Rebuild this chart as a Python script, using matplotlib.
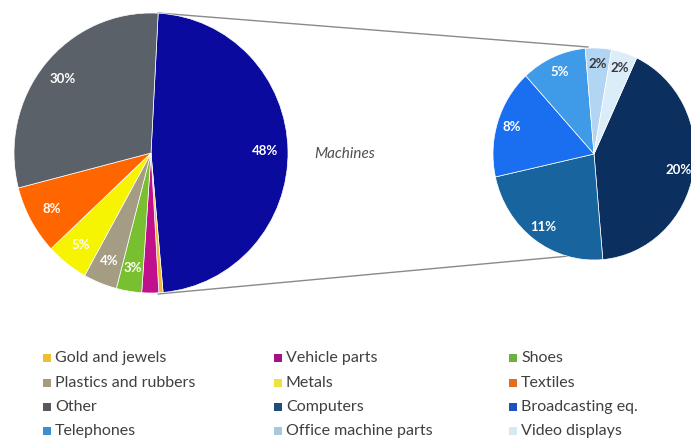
import matplotlib.pyplot as plt
import numpy as np

plt.rcParams['font.family'] = ['Lato', 'DejaVu Sans']

# export shares, % of total
export_labels = ["Machines", "Gold and jewels", "Vehicle parts", "Shoes",
                 "Plastics and rubbers", "Metals", "Textiles", "Other"]
export_shares = [48, 0.5, 2, 3, 4, 5, 8, 30]
export_colors = ["#0a0a9e", "#f0b830", "#c0108c", "#78c030",
                 "#a59c84", "#f6f400", "#ff6600", "#5b6168"]

# breakdown of the machines slice, % of total
machine_shares = [20, 11, 8, 5, 2, 2]
machine_colors = ["#0b2f5e", "#17649e", "#1a6ef0", "#3f9be8", "#b2d5f3", "#dcedfa"]
machine_text = ["white", "white", "white", "white", "#3a3a3a", "#3a3a3a"]

legend_labels = ["Gold and jewels", "Vehicle parts", "Shoes",
                 "Plastics and rubbers", "Metals", "Textiles",
                 "Other", "Computers", "Broadcasting eq.",
                 "Telephones", "Office machine parts", "Video displays"]
legend_colors = ["#e8c030", "#a0108c", "#6cb040",
                 "#a89c80", "#f0e040", "#e07020",
                 "#555a60", "#1e4e7c", "#2050c0",
                 "#3a8fd0", "#a8c8e0", "#d8e8f0"]

W, H = 691, 442
fig = plt.figure(figsize=(W / 100, H / 100), dpi=100)


def pie_axes(cx, cy, rx, ry):
    return fig.add_axes([(cx - rx) / W, (H - cy - ry) / H, 2 * rx / W, 2 * ry / H])


def finish_pie(ax, wedges):
    # pie() resets limits and aspect, so stretch the unit circle over the box afterwards
    ax.set_xlim(-1, 1)
    ax.set_ylim(-1, 1)
    ax.set_aspect('auto')
    ax.axis('off')
    for w in wedges:
        w.set_clip_on(False)


def label_wedges(ax, wedges, values, colors, dist, min_val=0):
    for w, v, c in zip(wedges, values, colors):
        if v < min_val:
            continue
        ang = np.deg2rad((w.theta1 + w.theta2) / 2)
        ax.text(dist * np.cos(ang), dist * np.sin(ang), f"{v:g}%",
                ha='center', va='center', color=c, fontsize=9.5, fontweight='bold')


# overlay in pixel coordinates for connectors, caption and legend
ov = fig.add_axes([0, 0, 1, 1])
ov.set_xlim(0, W)
ov.set_ylim(H, 0)
ov.axis('off')
ov.plot([158, 588], [13, 47], color="#8a8a8a", lw=1)
ov.plot([158, 580], [294, 255], color="#8a8a8a", lw=1)
ov.text(345, 154, "Machines", style='italic', fontsize=11, color="#505050",
        ha='center', va='center')

# left pie: all exports
ax1 = pie_axes(151, 153, 137, 140)
w1, _ = ax1.pie(export_shares, colors=export_colors, startangle=87, counterclock=False,
                radius=1, wedgeprops=dict(edgecolor='white', linewidth=0.5))
finish_pie(ax1, w1)
label_wedges(ax1, w1, export_shares, ["white"] * len(export_shares), 0.83, min_val=3)

# right pie: machines breakdown
ax2 = pie_axes(594, 154, 101, 106)
w2, _ = ax2.pie(machine_shares, colors=machine_colors, startangle=65, counterclock=False,
                radius=1, wedgeprops=dict(edgecolor='white', linewidth=0.5))
finish_pie(ax2, w2)
label_wedges(ax2, w2, machine_shares, machine_text, 0.85)

# legend, 3 columns filled row by row
col_x = [47, 278, 513]
row_y = [358, 383, 407, 431]
for i, (lab, col) in enumerate(zip(legend_labels, legend_colors)):
    x = col_x[i % 3]
    y = row_y[i // 3]
    ov.scatter([x], [y], marker='s', s=40, color=col, linewidths=0)
    ov.text(x + 8, y, lab, fontsize=11.5, color="#404040", ha='left', va='center')

fig.savefig("out.png", dpi=100)
